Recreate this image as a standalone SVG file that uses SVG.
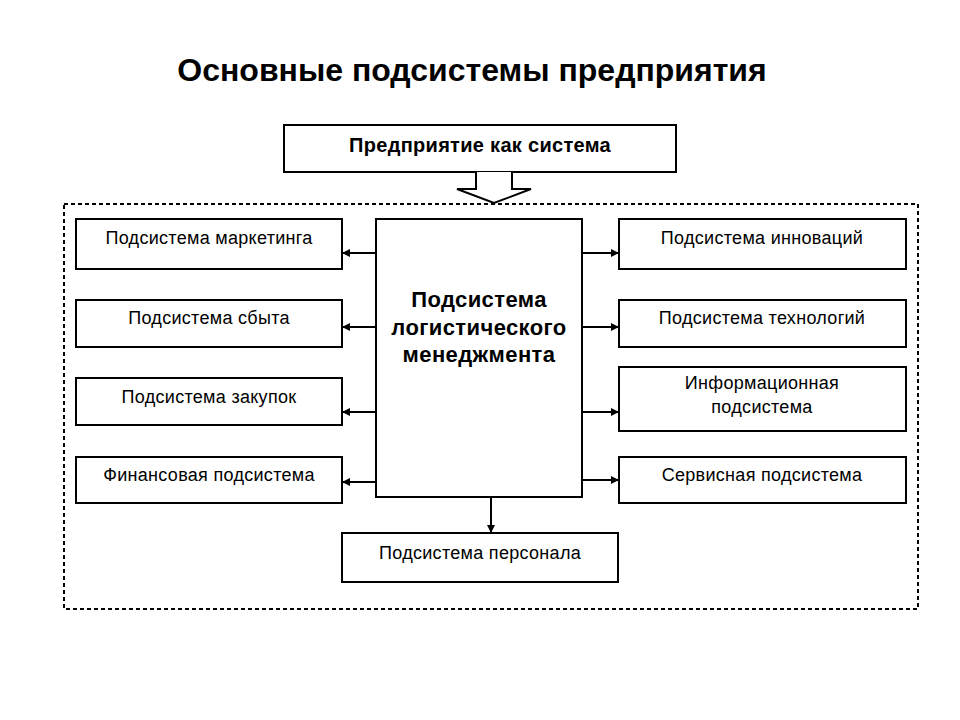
<svg xmlns="http://www.w3.org/2000/svg" width="960" height="720" viewBox="0 0 960 720">
<style>
.box{fill:#fff;stroke:#000;stroke-width:2}
.t{font-family:"Liberation Sans",Arial,sans-serif;font-size:18px;letter-spacing:0.3px;text-anchor:middle;fill:#000}
.b{font-family:"Liberation Sans",Arial,sans-serif;font-weight:bold;text-anchor:middle;fill:#000}
.c{stroke:#000;stroke-width:2;fill:none}
</style>
<defs>
<marker id="ah" markerWidth="8" markerHeight="8" refX="7" refY="4" orient="auto" markerUnits="userSpaceOnUse">
<path d="M0,0 L8,4 L0,8 Z" fill="#000"/>
</marker>
</defs>
<rect width="960" height="720" fill="#fff"/>
<text class="b" x="472" y="81" font-size="32">Основные подсистемы предприятия</text>
<rect x="64" y="204" width="854" height="405" fill="none" stroke="#000" stroke-width="2" stroke-dasharray="4,3"/>
<g id="enterprise">
<rect class="box" x="284" y="125" width="392" height="47"/>
<text class="b" x="480" y="152" font-size="20" letter-spacing="0.3">Предприятие как система</text>
</g>
<g id="logistics">
<rect class="box" x="376" y="219" width="206" height="278"/>
<text class="b" x="479" y="307" font-size="22" letter-spacing="0.4">Подсистема</text>
<text class="b" x="479" y="335" font-size="22" letter-spacing="0.4">логистического</text>
<text class="b" x="479" y="362" font-size="22" letter-spacing="0.4">менеджмента</text>
</g>
<g id="marketing"><rect class="box" x="76" y="219" width="266" height="50"/><text class="t" x="209" y="244">Подсистема маркетинга</text></g>
<g id="sales"><rect class="box" x="76" y="300" width="266" height="47"/><text class="t" x="209" y="324">Подсистема сбыта</text></g>
<g id="purchase"><rect class="box" x="76" y="378" width="266" height="47"/><text class="t" x="209" y="403">Подсистема закупок</text></g>
<g id="finance"><rect class="box" x="76" y="457" width="266" height="46"/><text class="t" x="209" y="481">Финансовая подсистема</text></g>
<g id="innovation"><rect class="box" x="619" y="219" width="287" height="50"/><text class="t" x="762" y="244">Подсистема инноваций</text></g>
<g id="technology"><rect class="box" x="619" y="300" width="287" height="47"/><text class="t" x="762" y="324">Подсистема технологий</text></g>
<g id="information"><rect class="box" x="619" y="367" width="287" height="64"/><text class="t" x="762" y="389">Информационная</text><text class="t" x="762" y="413">подсистема</text></g>
<g id="service"><rect class="box" x="619" y="457" width="287" height="46"/><text class="t" x="762" y="481">Сервисная подсистема</text></g>
<g id="personnel"><rect class="box" x="342" y="533" width="276" height="49"/><text class="t" x="480" y="559">Подсистема персонала</text></g>
<g id="connectors">
<path d="M476,172 V189 H457 L494,203 L531,189 H512 V172" fill="#fff" stroke="#000" stroke-width="2"/>
<line class="c" x1="376" y1="253" x2="343" y2="253" marker-end="url(#ah)"/>
<line class="c" x1="376" y1="327" x2="343" y2="327" marker-end="url(#ah)"/>
<line class="c" x1="376" y1="412" x2="343" y2="412" marker-end="url(#ah)"/>
<line class="c" x1="376" y1="482" x2="343" y2="482" marker-end="url(#ah)"/>
<line class="c" x1="582" y1="253" x2="618" y2="253" marker-end="url(#ah)"/>
<line class="c" x1="582" y1="327" x2="618" y2="327" marker-end="url(#ah)"/>
<line class="c" x1="582" y1="412" x2="618" y2="412" marker-end="url(#ah)"/>
<line class="c" x1="582" y1="480" x2="618" y2="480" marker-end="url(#ah)"/>
<line class="c" x1="491" y1="497" x2="491" y2="532" marker-end="url(#ah)"/>
</g>
</svg>
